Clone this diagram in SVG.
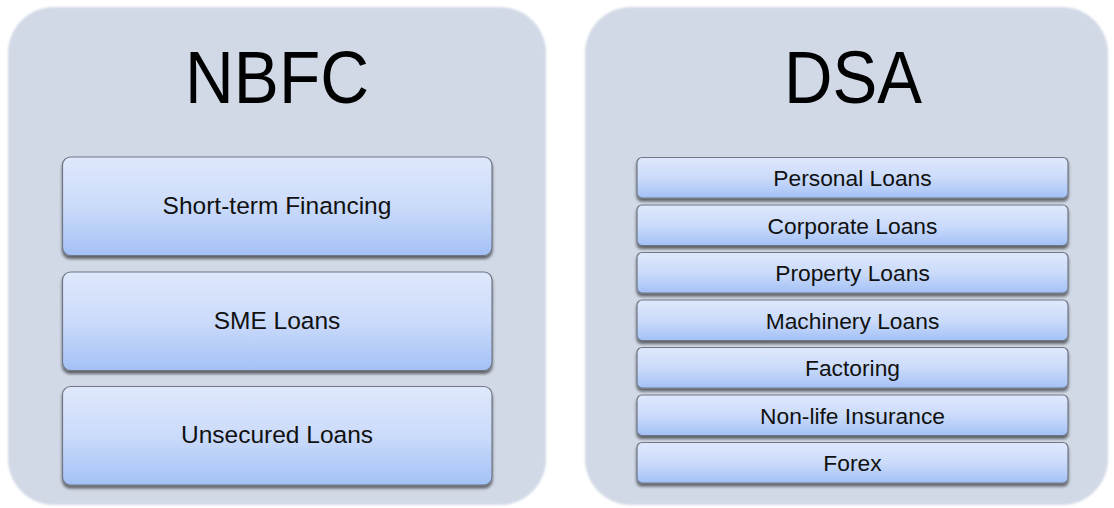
<svg xmlns="http://www.w3.org/2000/svg" width="1114" height="508" viewBox="0 0 1114 508">
<defs>
<linearGradient id="bg" x1="0" y1="0" x2="0" y2="1">
<stop offset="0" stop-color="#dfe8fc"/>
<stop offset="0.5" stop-color="#cbdbfa"/>
<stop offset="1" stop-color="#a3c1f6"/>
</linearGradient>
<filter id="sh" x="-5%" y="-10%" width="110%" height="130%">
<feGaussianBlur in="SourceAlpha" stdDeviation="1.6"/>
<feOffset dx="0" dy="2.5" result="b"/>
<feComponentTransfer><feFuncA type="linear" slope="0.55"/></feComponentTransfer>
<feMerge><feMergeNode/><feMergeNode in="SourceGraphic"/></feMerge>
</filter>
<filter id="soft" x="-2%" y="-2%" width="104%" height="104%">
<feGaussianBlur stdDeviation="0.8"/>
</filter>
</defs>
<style>
.panel{fill:#d1d9e6;}
.box{fill:url(#bg);stroke:#6f7684;stroke-width:1.2;filter:url(#sh);}
.title{font-family:"Liberation Sans",Arial,sans-serif;font-size:74px;fill:#000;text-anchor:middle;}
.lbl{font-family:"Liberation Sans",Arial,sans-serif;font-size:24.5px;fill:#111;text-anchor:middle;}
.slbl{font-family:"Liberation Sans",Arial,sans-serif;font-size:22.8px;fill:#111;text-anchor:middle;}
</style>
<rect width="1114" height="508" fill="#ffffff"/>
<g id="nbfc">
<rect class="panel" x="8" y="7" width="538" height="498" rx="46" ry="46" filter="url(#soft)"/>
<text class="title" x="277" y="103" textLength="184" lengthAdjust="spacingAndGlyphs">NBFC</text>
</g>
<g id="nbfc-short">
<rect class="box" x="62.5" y="157" width="429.5" height="98.5" rx="8"/>
<text class="lbl" x="277" y="213.5">Short-term Financing</text>
</g>
<g id="nbfc-sme">
<rect class="box" x="62.5" y="272" width="429.5" height="98.5" rx="8"/>
<text class="lbl" x="277" y="328.5">SME Loans</text>
</g>
<g id="nbfc-unsecured">
<rect class="box" x="62.5" y="386.5" width="429.5" height="98.5" rx="8"/>
<text class="lbl" x="277" y="443">Unsecured Loans</text>
</g>
<g id="dsa">
<rect class="panel" x="585" y="7" width="523" height="498" rx="46" ry="46" filter="url(#soft)"/>
<text class="title" x="853" y="103" textLength="138" lengthAdjust="spacingAndGlyphs">DSA</text>
</g>
<g id="dsa-personal">
<rect class="box" x="637" y="157.5" width="431" height="40.5" rx="5"/>
<text class="slbl" x="852.5" y="186">Personal Loans</text>
</g>
<g id="dsa-corporate">
<rect class="box" x="637" y="205" width="431" height="40.5" rx="5"/>
<text class="slbl" x="852.5" y="233.5">Corporate Loans</text>
</g>
<g id="dsa-property">
<rect class="box" x="637" y="252.5" width="431" height="40.5" rx="5"/>
<text class="slbl" x="852.5" y="281">Property Loans</text>
</g>
<g id="dsa-machinery">
<rect class="box" x="637" y="300" width="431" height="40.5" rx="5"/>
<text class="slbl" x="852.5" y="328.5">Machinery Loans</text>
</g>
<g id="dsa-factoring">
<rect class="box" x="637" y="347.5" width="431" height="40.5" rx="5"/>
<text class="slbl" x="852.5" y="376">Factoring</text>
</g>
<g id="dsa-nonlife">
<rect class="box" x="637" y="395" width="431" height="40.5" rx="5"/>
<text class="slbl" x="852.5" y="423.5">Non-life Insurance</text>
</g>
<g id="dsa-forex">
<rect class="box" x="637" y="442.5" width="431" height="40.5" rx="5"/>
<text class="slbl" x="852.5" y="471">Forex</text>
</g>
<g id="connectors"/>
</svg>
